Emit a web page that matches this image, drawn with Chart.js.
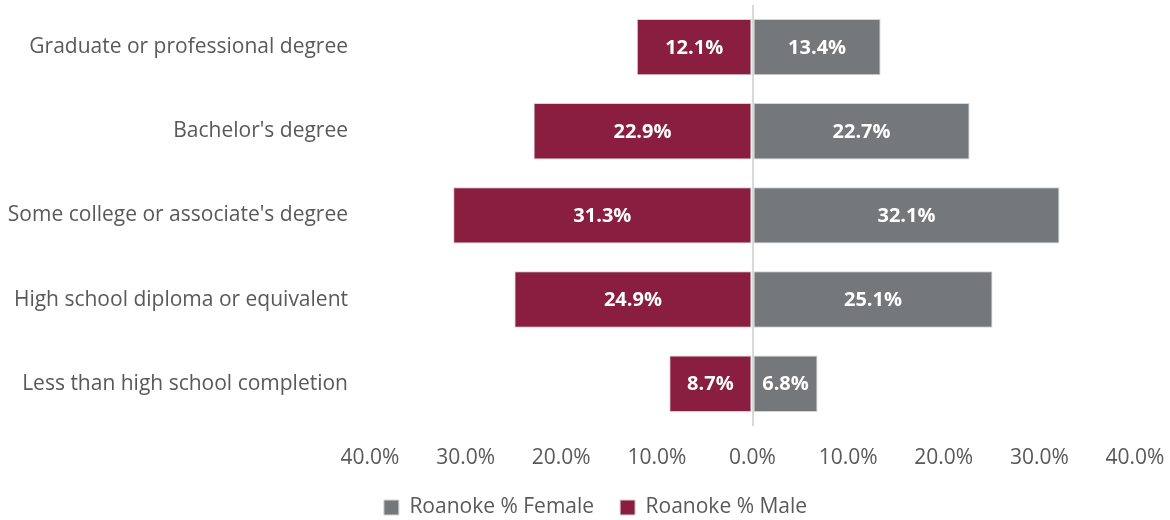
<!DOCTYPE html>
<html>
<head>
<meta charset="utf-8">
<script src="https://cdn.jsdelivr.net/npm/chart.js@4/dist/chart.umd.min.js"></script>
<style>
  body { margin: 0; background: #fff; }
</style>
</head>
<body>
<canvas id="mycanvas" width="1170" height="520"></canvas>
<script>
var categories = [
  'Graduate or professional degree',
  "Bachelor's degree",
  "Some college or associate's degree",
  'High school diploma or equivalent',
  'Less than high school completion'
];
var female = [13.4, 22.7, 32.1, 25.1, 6.8];
var male = [12.1, 22.9, 31.3, 24.9, 8.7];
var xTicks = [-40, -30, -20, -10, 0, 10, 20, 30, 40];

var FONT = "'Open Sans', 'DejaVu Sans', sans-serif";

// male bars go to the left of zero
var maleLeft = male.map(function(v) { return -v; });

// white value labels in the middle of each bar
var barLabels = {
  id: 'barLabels',
  afterDatasetsDraw: function(chart) {
    var ctx = chart.ctx;
    ctx.save();
    ctx.fillStyle = '#ffffff';
    ctx.font = 'bold 20px ' + FONT;
    ctx.textAlign = 'center';
    ctx.textBaseline = 'middle';
    chart.data.datasets.forEach(function(ds, di) {
      var meta = chart.getDatasetMeta(di);
      meta.data.forEach(function(bar, i) {
        var v = Math.abs(ds.data[i]);
        var x = (bar.x + bar.base) / 2;
        ctx.fillText(v.toFixed(1) + '%', x, bar.y + 1);
      });
    });
    ctx.restore();
  }
};

// keep the legend strip short, then move it into place
var legendShift = {
  id: 'legendShift',
  beforeLayout: function(chart) {
    var lg = chart.legend;
    if (lg && !lg._shortFit) {
      var fit = lg.fit;
      lg.fit = function() {
        fit.call(this);
        this.height = 29;
      };
      lg._shortFit = true;
    }
  },
  afterLayout: function(chart) {
    var lg = chart.legend;
    lg.left += 28;
    lg.right += 28;
    lg.top -= 20;
    lg.bottom = chart.height;
  }
};

var ctx = document.getElementById('mycanvas');
var barGraph = new Chart(ctx, {
  type: 'bar',
  data: {
    labels: categories,
    datasets: [
      {
        label: 'Roanoke % Female',
        data: female,
        backgroundColor: '#75787b',
        borderColor: '#d4d4d4',
        borderWidth: 1,
        borderSkipped: false,
        barPercentage: 0.67,
        categoryPercentage: 1
      },
      {
        label: 'Roanoke % Male',
        data: maleLeft,
        backgroundColor: '#8a1e41',
        borderColor: '#d4d4d4',
        borderWidth: 1,
        borderSkipped: false,
        barPercentage: 0.67,
        categoryPercentage: 1
      }
    ]
  },
  options: {
    indexAxis: 'y',
    responsive: false,
    animation: false,
    layout: { padding: { left: 0, right: 35, top: 5, bottom: 0 } },
    plugins: {
      tooltip: { enabled: false },
      legend: {
        position: 'bottom',
        labels: {
          boxWidth: 15,
          boxHeight: 15,
          padding: 26,
          color: '#595959',
          font: { family: FONT, size: 21 }
        }
      }
    },
    scales: {
      x: {
        stacked: true,
        min: -40,
        max: 40,
        afterBuildTicks: function(scale) {
          scale.ticks = xTicks.map(function(v) { return { value: v }; });
        },
        afterFit: function(scale) {
          scale.paddingLeft = 0;
          scale.paddingRight = 0;
        },
        border: { display: false },
        grid: {
          drawTicks: false,
          lineWidth: 2,
          color: function(c) {
            return c.tick && c.tick.value === 0 ? '#d9d9d9' : 'rgba(0,0,0,0)';
          }
        },
        ticks: {
          padding: 20,
          color: '#595959',
          font: { family: FONT, size: 21 },
          callback: function(v) { return Math.abs(v).toFixed(1) + '%'; }
        }
      },
      y: {
        stacked: true,
        border: { display: false },
        grid: { display: false, drawTicks: false },
        afterFit: function(scale) {
          scale.width = 370;
          scale.paddingTop = 0;
          scale.paddingBottom = 0;
        },
        ticks: {
          padding: 22,
          color: '#595959',
          font: { family: FONT, size: 21 }
        }
      }
    }
  },
  plugins: [barLabels, legendShift]
});
</script>
</body>
</html>
